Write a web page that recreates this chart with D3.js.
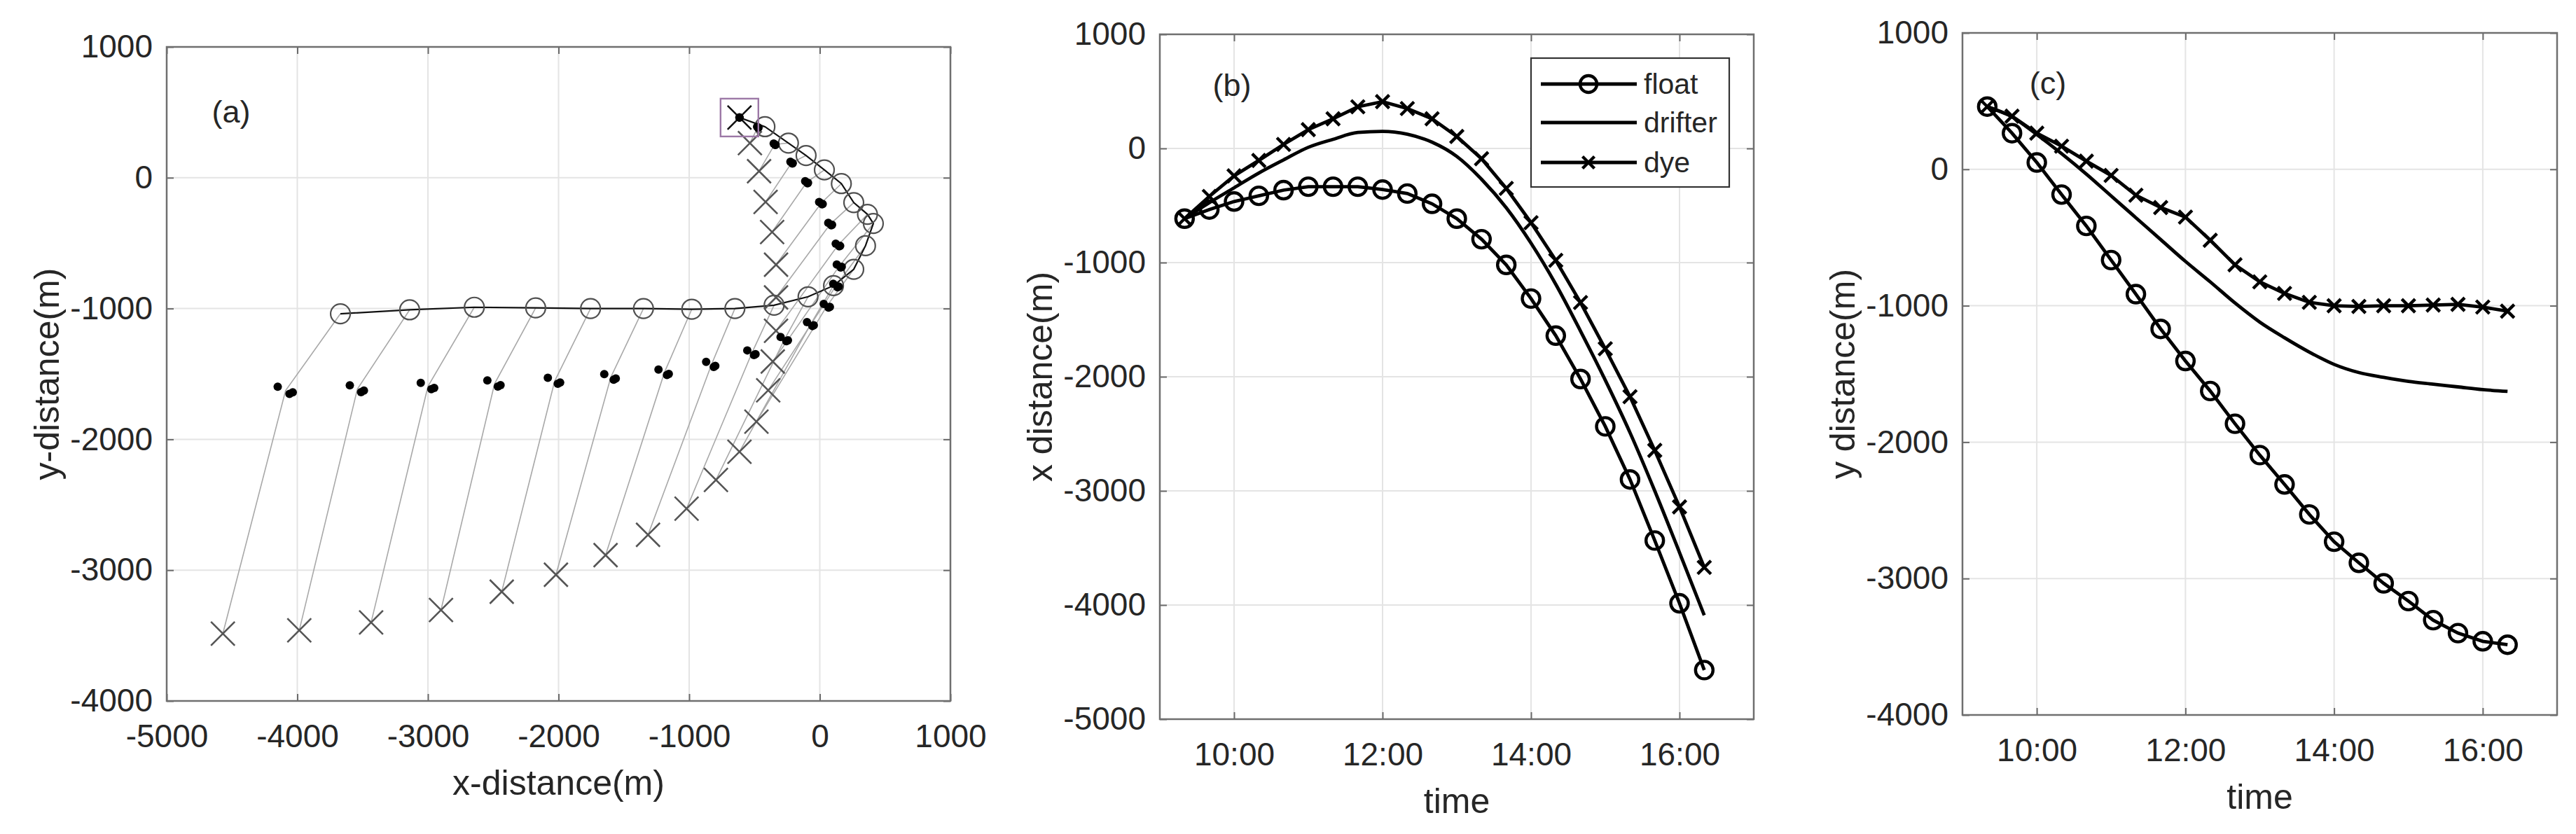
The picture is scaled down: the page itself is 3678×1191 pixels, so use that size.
<!DOCTYPE html>
<html><head><meta charset="utf-8">
<script src="https://cdn.jsdelivr.net/npm/d3@7"></script>
<style>
body{margin:0;background:#fff}
text{font-family:"Liberation Sans",Arial,Helvetica,sans-serif;fill:#262626}
</style>
</head><body>
<svg id="chart" width="3678" height="1191" xmlns="http://www.w3.org/2000/svg"></svg>
<script>
// ---------------- DATA ----------------
const times = ["9:20","9:40","10:00","10:20","10:40","11:00","11:20","11:40","12:00","12:20","12:40",
               "13:00","13:20","13:40","14:00","14:20","14:40","15:00","15:20","15:40","16:00","16:20"];
// float (x distance, y distance)
const floatX = [-615,-535,-465,-415,-365,-335,-335,-335,-360,-395,-485,-615,-795,-1020,-1315,-1640,-2020,-2435,-2900,-3435,-3985,-4570];
const floatY = [460,265,50,-185,-415,-665,-915,-1170,-1405,-1625,-1865,-2095,-2310,-2530,-2730,-2885,-3035,-3165,-3305,-3400,-3460,-3485];
// dye
const dyeX = [-615,-420,-240,-105,35,165,260,365,410,350,260,105,-90,-350,-650,-980,-1350,-1755,-2175,-2645,-3140,-3670];
const dyeY = [460,390,265,170,60,-45,-190,-280,-350,-520,-700,-825,-910,-975,-1000,-1005,-1000,-1000,-995,-990,-1010,-1040];
// drifter mean
const drifterX = [-615,-475,-345,-215,-100,10,80,140,150,125,55,-70,-270,-520,-830,-1190,-1600,-2030,-2490,-3000,-3540,-4090];
const drifterY = [460,385,255,115,-35,-195,-355,-515,-675,-825,-980,-1120,-1235,-1340,-1430,-1490,-1525,-1555,-1575,-1595,-1615,-1628];
// individual drifters (panel a dots)
const drifter1X = [-615,-480,-353,-225,-112,-5,65,122,130,103,30,-98,-300,-555,-870,-1235,-1650,-2082,-2545,-3055,-3598,-4150];
const drifter1Y = [460,390,261,122,-27,-186,-345,-504,-663,-811,-965,-1104,-1217,-1320,-1408,-1467,-1501,-1530,-1549,-1568,-1587,-1598];
const drifter2X = [-615,-472,-341,-210,-94,17,88,149,160,136,67,-57,-256,-504,-812,-1170,-1578,-2006,-2465,-2974,-3512,-4060];
const drifter2Y = [460,381,250,109,-42,-203,-364,-525,-686,-837,-993,-1134,-1250,-1356,-1447,-1508,-1544,-1575,-1596,-1617,-1639,-1653];
const drifter3X = [-615,-470,-339,-207,-90,22,94,156,168,145,77,-46,-244,-492,-800,-1156,-1562,-1988,-2444,-2952,-3490,-4035];
const drifter3Y = [460,383,252,111,-39,-200,-360,-521,-681,-832,-987,-1128,-1243,-1349,-1439,-1500,-1535,-1566,-1586,-1607,-1627,-1640];
// ticks
const xTicksA = [-5000,-4000,-3000,-2000,-1000,0,1000];
const yTicksA = [-4000,-3000,-2000,-1000,0,1000];
const yTicksB = [-5000,-4000,-3000,-2000,-1000,0,1000];
const yTicksC = [-4000,-3000,-2000,-1000,0,1000];
const timeTicks = [10,12,14,16];
const timeTickLabels = ["10:00","12:00","14:00","16:00"];
const legendLabels = ["float","drifter","dye"];

// ---------------- HELPERS ----------------
const hours = times.map(s => { const [h,m] = s.split(":").map(Number); return h + m/60; });
const svg = d3.select("#chart");
const TICKFS = 46, TITLEFS = 50;

function frame(o){
  const g = svg.append("g");
  const {x, y, x0, x1, y0, y1} = o;
  // grid
  g.selectAll(null).data(o.xt).join("line")
    .attr("x1", d => x(d)).attr("x2", d => x(d)).attr("y1", y0).attr("y2", y1)
    .attr("stroke", "#e4e4e4").attr("stroke-width", 2);
  g.selectAll(null).data(o.yt).join("line")
    .attr("y1", d => y(d)).attr("y2", d => y(d)).attr("x1", x0).attr("x2", x1)
    .attr("stroke", "#e4e4e4").attr("stroke-width", 2);
  // axes
  const fmtX = o.xfmt || (d => d);
  const ax = g.append("g").attr("transform", `translate(0,${y1})`)
    .call(d3.axisBottom(x).tickValues(o.xt).tickFormat(fmtX).tickSize(-10).tickPadding(33));
  const axT = g.append("g").attr("transform", `translate(0,${y0})`)
    .call(d3.axisTop(x).tickValues(o.xt).tickFormat("").tickSize(-10));
  const ay = g.append("g").attr("transform", `translate(${x0},0)`)
    .call(d3.axisLeft(y).tickValues(o.yt).tickFormat(d => d).tickSize(-10).tickPadding(20));
  const ayR = g.append("g").attr("transform", `translate(${x1},0)`)
    .call(d3.axisRight(y).tickValues(o.yt).tickFormat("").tickSize(-10));
  [ax, axT, ay, ayR].forEach(a => {
    a.select(".domain").remove();
    a.selectAll(".tick line").attr("stroke", "#6a6a6a").attr("stroke-width", 2);
    a.selectAll("text").attr("font-size", TICKFS).attr("fill", "#262626")
      .attr("font-family", '"Liberation Sans",Arial,sans-serif');
  });
  // titles
  g.append("text").attr("x", (x0 + x1) / 2).attr("y", y1 + 116).attr("dy", "0.35em")
    .attr("text-anchor", "middle").attr("font-size", TITLEFS).text(o.xlabel);
  g.append("text").attr("transform", `translate(${x0 - 172},${(y0 + y1) / 2}) rotate(-90)`)
    .attr("dy", "0.35em").attr("text-anchor", "middle").attr("font-size", TITLEFS).text(o.ylabel);
  // panel tag
  g.append("text").attr("x", o.tag[1]).attr("y", o.tag[2]).attr("dy", "0.35em")
    .attr("text-anchor", "middle").attr("font-size", 45).text(o.tag[0]);
  const plot = svg.append("g");
  return {g, plot, box: () => svg.append("rect").attr("x", x0).attr("y", y0)
      .attr("width", x1 - x0).attr("height", y1 - y0)
      .attr("fill", "none").attr("stroke", "#6f6f6f").attr("stroke-width", 2.5)};
}

function xMark(sel, size, color, width){
  return sel.append("path").attr("d", `M${-size},${-size}L${size},${size}M${-size},${size}L${size},${-size}`)
    .attr("stroke", color).attr("stroke-width", width).attr("fill", "none");
}

// ---------------- PANEL A ----------------
{
  const x0 = 238, x1 = 1357, y0 = 67, y1 = 1001;
  const x = d3.scaleLinear().domain([-5000, 1000]).range([x0, x1]);
  const y = d3.scaleLinear().domain([-4000, 1000]).range([y1, y0]);
  const P = frame({x, y, x0, x1, y0, y1, xt: xTicksA, yt: yTicksA,
    xlabel: "x-distance(m)", ylabel: "y-distance(m)", tag: ["(a)", 330, 159]});
  const p = P.plot;
  // connectors dye -> drifter -> float
  const idx = d3.range(1, times.length);
  p.selectAll(null).data(idx).join("path")
    .attr("d", i => d3.line()([[x(dyeX[i]), y(dyeY[i])], [x(drifterX[i]), y(drifterY[i])], [x(floatX[i]), y(floatY[i])]]))
    .attr("fill", "none").attr("stroke", "#a8a8a8").attr("stroke-width", 1.6);
  // dye trajectory line
  p.append("path").attr("d", d3.line()(dyeX.map((v, i) => [x(v), y(dyeY[i])])))
    .attr("fill", "none").attr("stroke", "#111").attr("stroke-width", 2.2);
  // dye circles
  p.selectAll(null).data(idx).join("circle")
    .attr("cx", i => x(dyeX[i])).attr("cy", i => y(dyeY[i])).attr("r", 14)
    .attr("fill", "none").attr("stroke", "#505050").attr("stroke-width", 2.2);
  // float X
  floatX.forEach((v, i) => {
    const gg = p.append("g").attr("transform", `translate(${x(v)},${y(floatY[i])})`);
    xMark(gg, 17, i === 0 ? "#111" : "#555", 2.6);
  });
  // drifter dots
  [[drifter1X, drifter1Y], [drifter2X, drifter2Y], [drifter3X, drifter3Y]].forEach(([dx, dy]) => {
    p.selectAll(null).data(dx.map((v, i) => [v, dy[i]])).join("circle")
      .attr("cx", d => x(d[0])).attr("cy", d => y(d[1])).attr("r", 6).attr("fill", "#000");
  });
  // release square
  p.append("rect").attr("x", x(floatX[0]) - 27).attr("y", y(floatY[0]) - 27)
    .attr("width", 54).attr("height", 54).attr("fill", "none")
    .attr("stroke", "#9c78a6").attr("stroke-width", 2.4);
  P.box();
}

// ---------------- PANEL B / C ----------------
function timePanel(o){
  const {x0, x1, y0, y1} = o;
  const x = d3.scaleLinear().domain([9, 17]).range([x0, x1]);
  const y = d3.scaleLinear().domain(o.ydom).range([y1, y0]);
  const P = frame({x, y, x0, x1, y0, y1, xt: timeTicks, yt: o.yt,
    xfmt: (d, i) => timeTickLabels[i], xlabel: "time", ylabel: o.ylabel, tag: o.tag});
  const p = P.plot;
  const LW = 4.8;
  const lin = d3.line().x((d, i) => x(hours[i])).y(d => y(d));
  p.append("path").attr("d", lin.curve(d3.curveMonotoneX)(o.drift))
    .attr("fill", "none").attr("stroke", "#000").attr("stroke-width", LW);
  p.append("path").attr("d", lin.curve(d3.curveLinear)(o.fl))
    .attr("fill", "none").attr("stroke", "#000").attr("stroke-width", LW);
  p.append("path").attr("d", lin.curve(d3.curveLinear)(o.dy))
    .attr("fill", "none").attr("stroke", "#000").attr("stroke-width", LW);
  p.selectAll(null).data(o.fl).join("circle")
    .attr("cx", (d, i) => x(hours[i])).attr("cy", d => y(d)).attr("r", 12.5)
    .attr("fill", "none").attr("stroke", "#000").attr("stroke-width", 4.4);
  o.dy.forEach((v, i) => {
    const gg = p.append("g").attr("transform", `translate(${x(hours[i])},${y(v)})`);
    xMark(gg, 9.5, "#000", 4.4);
  });
  P.box();
  return {x, y};
}

timePanel({x0: 1656, x1: 2504, y0: 49, y1: 1027, ydom: [-5000, 1000], yt: yTicksB,
  ylabel: "x distance(m)", tag: ["(b)", 1759, 121], fl: floatX, dy: dyeX, drift: drifterX});
timePanel({x0: 2802, x1: 3651, y0: 47, y1: 1021, ydom: [-4000, 1000], yt: yTicksC,
  ylabel: "y distance(m)", tag: ["(c)", 2924, 118], fl: floatY, dy: dyeY, drift: drifterY});

// ---------------- LEGEND (panel b) ----------------
{
  const lg = svg.append("g");
  lg.append("rect").attr("x", 2186).attr("y", 83).attr("width", 283).attr("height", 184)
    .attr("fill", "#fff").attr("stroke", "#333").attr("stroke-width", 2.2);
  const ys = [120, 175, 232];
  legendLabels.forEach((lab, i) => {
    lg.append("line").attr("x1", 2200).attr("x2", 2337).attr("y1", ys[i]).attr("y2", ys[i])
      .attr("stroke", "#000").attr("stroke-width", 4.8);
    if (i === 0) lg.append("circle").attr("cx", 2268).attr("cy", ys[i]).attr("r", 12)
      .attr("fill", "none").attr("stroke", "#000").attr("stroke-width", 4.4);
    if (i === 2) xMark(lg.append("g").attr("transform", `translate(2268,${ys[i]})`), 8.5, "#000", 4.4);
    lg.append("text").attr("x", 2347).attr("y", ys[i]).attr("dy", "0.35em")
      .attr("font-size", 41).text(lab);
  });
}
</script>
</body></html>
